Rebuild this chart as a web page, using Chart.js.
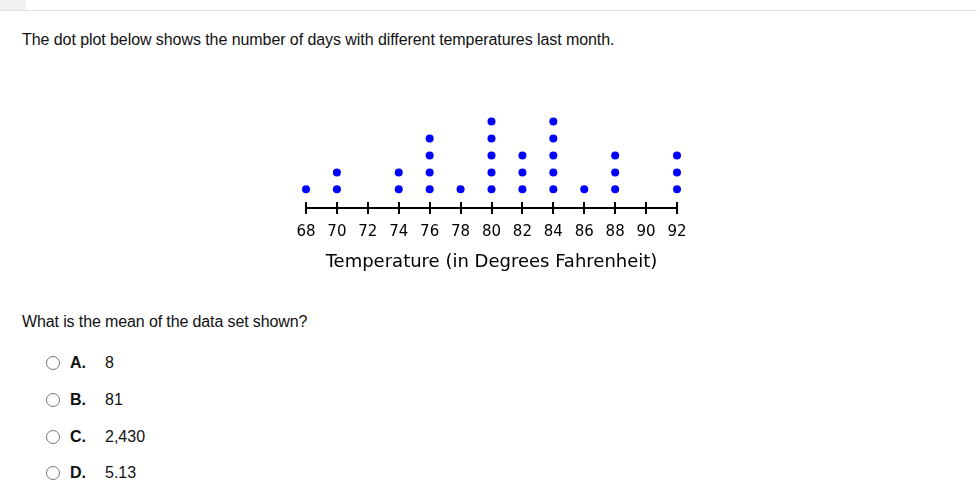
<!DOCTYPE html>
<html lang="en">
<head>
  <meta charset="UTF-8" />
  <title>Dot Plot – Temperatures</title>
  <script src="https://cdn.jsdelivr.net/npm/chart.js"></script>
  <style>
    * {
      box-sizing: border-box;
    }

    html, body {
      margin: 0;
      padding: 0;
      background: #fff;
      width: 977px;
      height: 496px;
      overflow: hidden;
      font-family: 'Liberation Sans', Arial, sans-serif;
      color: #111;
    }

    #top-tab {
      position: absolute;
      left: 0;
      top: 0;
      width: 26px;
      height: 10px;
      background: #f0f0f0;
    }

    #top-rule {
      position: absolute;
      left: 0;
      top: 10px;
      width: 977px;
      height: 1px;
      background: #e2e2e2;
    }

    .prompt {
      position: absolute;
      left: 22px;
      font-size: 16px;
      line-height: 20px;
      margin: 0;
      white-space: nowrap;
    }

    #intro { top: 30px; letter-spacing: -0.07px; }
    #question { top: 312px; letter-spacing: -0.12px; }

    #chart-box {
      position: absolute;
      left: 260px;
      top: 100px;
      width: 460px;
      height: 180px;
    }

    .option {
      position: absolute;
      left: 46px;
      height: 20px;
      font-size: 16px;
      line-height: 20px;
      white-space: nowrap;
    }

    .option .radio {
      position: absolute;
      left: 0;
      top: 3px;
      width: 14px;
      height: 14px;
      border: 1px solid #777;
      border-radius: 50%;
    }

    .option .letter {
      position: absolute;
      left: 24px;
      font-weight: bold;
    }

    .option .value {
      position: absolute;
      left: 59px;
    }
  </style>
</head>
<body>

  <div id="top-tab"></div>
  <div id="top-rule"></div>

  <p class="prompt" id="intro">The dot plot below shows the number of days with different temperatures last month.</p>

  <div id="chart-box">
    <canvas id="dotPlot" width="460" height="180"></canvas>
  </div>

  <p class="prompt" id="question">What is the mean of the data set shown?</p>

  <div class="option" style="top:353px"><span class="radio"></span><span class="letter">A.</span><span class="value">8</span></div>
  <div class="option" style="top:390px"><span class="radio"></span><span class="letter">B.</span><span class="value">81</span></div>
  <div class="option" style="top:427px"><span class="radio"></span><span class="letter">C.</span><span class="value">2,430</span></div>
  <div class="option" style="top:463px"><span class="radio"></span><span class="letter">D.</span><span class="value">5.13</span></div>

  <script>
    // temperatures on the number line and how many days had each one
    const temperatures = [68, 70, 72, 74, 76, 78, 80, 82, 84, 86, 88, 90, 92];
    const dayCounts = [1, 2, 0, 2, 4, 1, 5, 3, 5, 1, 3, 0, 3];
    const axisTitle = 'Temperature (in Degrees Fahrenheit)';

    // one dot per day, stacked upward
    const dots = [];
    temperatures.forEach((t, i) => {
      for (let k = 1; k <= dayCounts[i]; k++) {
        dots.push({ x: t, y: k });
      }
    });

    // small tick marks crossing the number line
    const crossTicks = {
      id: 'crossTicks',
      afterDraw: chart => {
        const ctx = chart.ctx;
        const xs = chart.scales.x;
        const y0 = xs.top;
        ctx.save();
        ctx.strokeStyle = '#000';
        ctx.lineWidth = 2;
        xs.ticks.forEach(tk => {
          const px = Math.round(xs.getPixelForValue(tk.value));
          ctx.beginPath();
          ctx.moveTo(px, y0 - 6);
          ctx.lineTo(px, y0 + 6);
          ctx.stroke();
        });
        ctx.restore();
      }
    };

    new Chart(document.getElementById('dotPlot'), {
      type: 'scatter',
      data: {
        datasets: [{
          data: dots,
          backgroundColor: '#0000ff',
          borderWidth: 0,
          pointRadius: 4,
          pointHoverRadius: 4,
          clip: false
        }]
      },
      options: {
        responsive: false,
        animation: false,
        layout: {
          padding: { left: 46, right: 43, top: 13, bottom: 0 }
        },
        plugins: {
          legend: { display: false },
          tooltip: { enabled: false }
        },
        scales: {
          x: {
            type: 'linear',
            min: temperatures[0],
            max: temperatures[temperatures.length - 1],
            afterFit: scale => { scale.height = 72; },
            border: { display: true, color: '#000', width: 2 },
            grid: { drawOnChartArea: false, drawTicks: false },
            ticks: {
              stepSize: 2,
              padding: 15,
              color: '#000',
              maxRotation: 0,
              autoSkip: false,
              font: { family: 'DejaVu Sans', size: 15 }
            },
            title: {
              display: true,
              text: axisTitle,
              color: '#000',
              font: { family: 'DejaVu Sans', size: 18 },
              padding: { top: 0, bottom: 7 }
            }
          },
          y: {
            display: false,
            min: -0.1,
            max: 5.5
          }
        }
      },
      plugins: [crossTicks]
    });
  </script>

</body>
</html>
